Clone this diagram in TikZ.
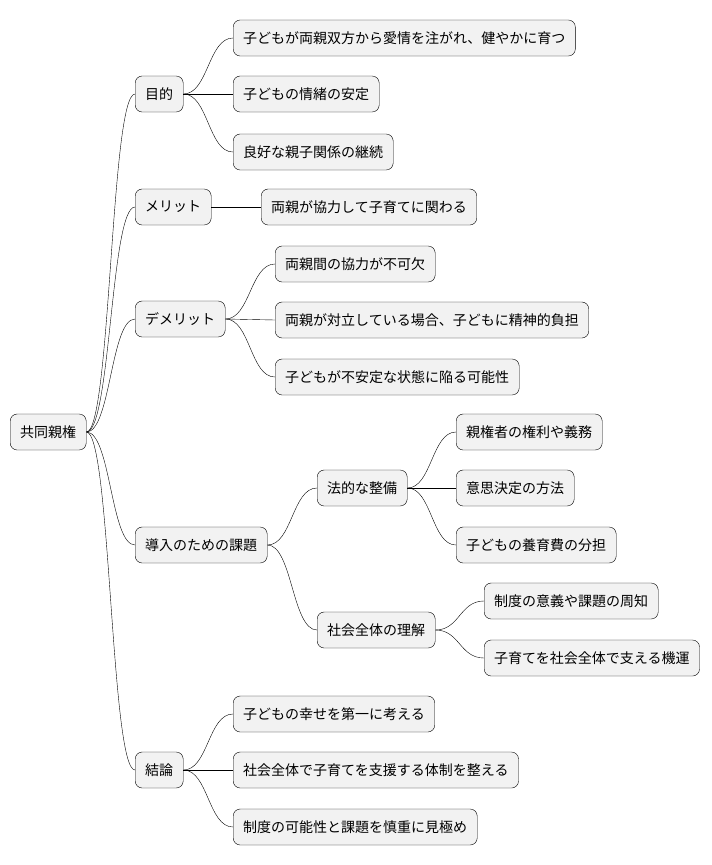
\documentclass[tikz,border=0pt]{standalone}
\usepackage{fontspec}
\setmainfont{Noto Sans CJK JP}
\usetikzlibrary{calc}
\begin{document}
\begin{tikzpicture}[x=1pt,y=-1pt,
  box/.style={draw,rounded corners=7pt,fill=gray!10,anchor=west,minimum height=36pt,inner xsep=10pt,font=\fontsize{14}{16}\selectfont}]
\useasboundingbox (0,0) rectangle (712,865);
\node[box] (root) at (10,432) {共同親権};
\node[box] (p) at (135,94) {目的};
\node[box] (m) at (135,207) {メリット};
\node[box] (d) at (135,319) {デメリット};
\node[box] (k) at (135,545) {導入のための課題};
\node[box] (c) at (135,770) {結論};
\node[box] (p1) at (233,38) {子どもが両親双方から愛情を注がれ、健やかに育つ};
\node[box] (p2) at (233,94) {子どもの情緒の安定};
\node[box] (p3) at (233,152) {良好な親子関係の継続};
\node[box] (m1) at (261,207) {両親が協力して子育てに関わる};
\node[box] (d1) at (275,264) {両親間の協力が不可欠};
\node[box] (d2) at (275,320) {両親が対立している場合、子どもに精神的負担};
\node[box] (d3) at (275,377) {子どもが不安定な状態に陥る可能性};
\node[box] (h) at (317,488) {法的な整備};
\node[box] (s) at (317,630) {社会全体の理解};
\node[box] (h1) at (456,432) {親権者の権利や義務};
\node[box] (h2) at (456,488) {意思決定の方法};
\node[box] (h3) at (456,545) {子どもの養育費の分担};
\node[box] (s1) at (484,601) {制度の意義や課題の周知};
\node[box] (s2) at (484,658) {子育てを社会全体で支える機運};
\node[box] (c1) at (233,714) {子どもの幸せを第一に考える};
\node[box] (c2) at (233,770) {社会全体で子育てを支援する体制を整える};
\node[box] (c3) at (233,827) {制度の可能性と課題を慎重に見極め};
\foreach \a/\b in {root/p,root/m,root/d,root/k,root/c,p/p1,p/p2,p/p3,m/m1,d/d1,d/d2,d/d3,k/h,k/s,h/h1,h/h2,h/h3,s/s1,s/s2,c/c1,c/c2,c/c3}
  \draw let \p1=(\a.east), \p2=(\b.west) in
    (\p1) .. controls ({(\x1+\x2)/2},\y1) and ({(\x1+\x2)/2},\y2) .. (\p2);
\end{tikzpicture}
\end{document}
